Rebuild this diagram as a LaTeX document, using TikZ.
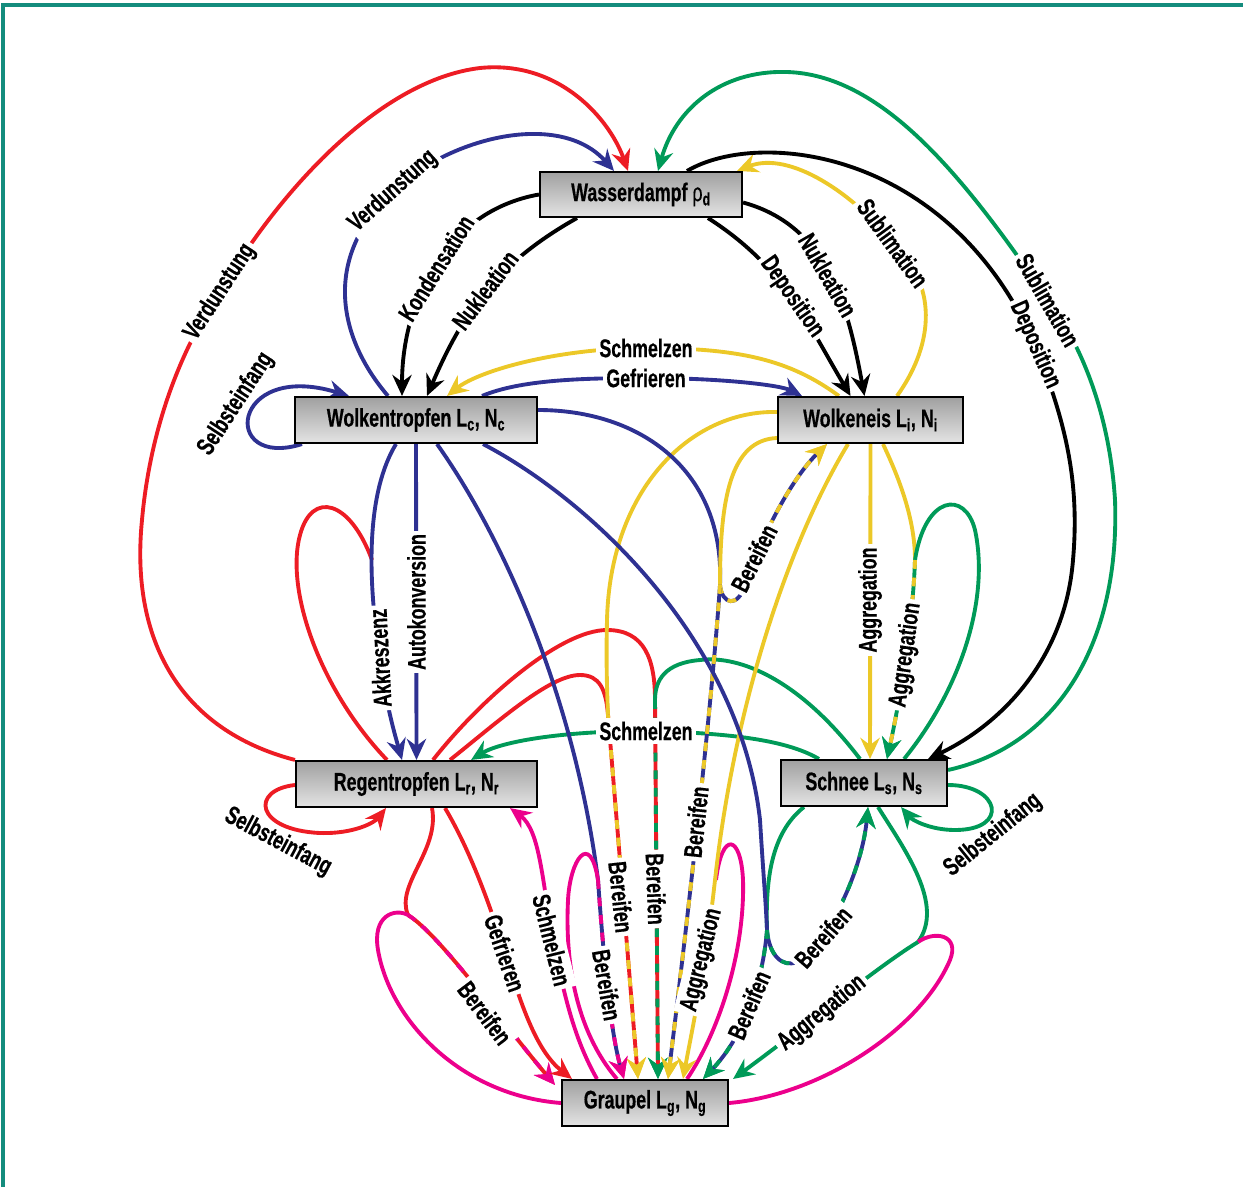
\documentclass[tikz,border=0pt]{standalone}
\usepackage{fontspec}
\setmainfont{Liberation Sans}[FakeBold=0.6]
\usetikzlibrary{arrows.meta,calc}
\definecolor{cred}{RGB}{237,28,36}
\definecolor{cblue}{RGB}{46,49,146}
\definecolor{cyel}{RGB}{236,200,40}
\definecolor{cgreen}{RGB}{0,154,88}
\definecolor{cmag}{RGB}{236,0,140}
\definecolor{cframe}{RGB}{20,140,125}
\definecolor{boxtop}{RGB}{160,160,160}
\definecolor{boxbot}{RGB}{228,228,228}
\newcommand\cz[1]{\scalebox{0.7}[1]{#1}}
\pgfdeclarelayer{bg}
\pgfsetlayers{bg,main}
\tikzset{
  con/.style={line width=2.2pt},
  arr/.style={-{Stealth[length=12pt,width=11pt,inset=4pt,color=#1]}},
  bic/.style 2 args={draw=#1, postaction={draw=#2, dash pattern=on 5pt off 5pt}},
  box/.style={draw, line width=1.2pt, top color=boxtop, bottom color=boxbot, minimum height=0.92cm, inner sep=2pt},
  lbl/.style={fill=white, inner sep=2pt},
  free/.style={inner sep=1pt},
}
\begin{document}
\begin{tikzpicture}[x=0.02cm, y=-0.02cm, every node/.style={font=\bfseries\fontsize{14.5}{16}\selectfont}]
\useasboundingbox (0,0) rectangle (1243,1186);
\draw[cframe, line width=2pt] (3,1190) -- (3,5) -- (1246,5);

% boxes
\node[box, minimum width=4.04cm, minimum height=0.9cm] (WD) at (641,194.5) {\cz{Wasserdampf {\mdseries ρ}\textsubscript{d}}};
\node[box, minimum width=4.84cm] (WT) at (416,420) {\cz{Wolkentropfen L\textsubscript{c}, N\textsubscript{c}}};
\node[box, minimum width=3.7cm] (WE) at (870.5,420) {\cz{Wolkeneis L\textsubscript{i}, N\textsubscript{i}}};
\node[box, minimum width=4.82cm] (RT) at (416.5,784) {\cz{Regentropfen L\textsubscript{r}, N\textsubscript{r}}};
\node[box, minimum width=3.32cm] (SN) at (864,783) {\cz{Schnee L\textsubscript{s}, N\textsubscript{s}}};
\node[box, minimum width=3.32cm] (GR) at (645,1103) {\cz{Graupel L\textsubscript{g}, N\textsubscript{g}}};

% merge points
\coordinate (akk) at (372,560);
\coordinate (m1) at (655,700);
\coordinate (m2) at (608,715);
\coordinate (h1) at (720,585);
\coordinate (m3) at (915,560);
\coordinate (h2) at (767,930);
\coordinate (m4) at (918,942);
\coordinate (k) at (408,915);
\coordinate (m5) at (598,880);

\begin{pgfonlayer}{bg}
% ---- top
\draw[con, cred, arr=cred] (RT.north west) .. controls (180,730) and (130,640) .. (142,520)
  .. controls (150,430) and (180,350) .. (220,292) .. controls (280,190) and (380,80) .. (480,68)
  .. controls (560,60) and (610,120) .. ($(WD.north)+(-13,0)$);
\draw[con, cblue, arr=cblue] ($(WT.north)+(-28,0)$) .. controls (340,340) and (320,260) .. (393,191)
  .. controls (450,137) and (560,110) .. ($(WD.north)+(-27,0)$);
\draw[con, black, arr=black] (WD.west) .. controls (446,211) and (402,301) .. ($(WT.north)+(-14,0)$);
\draw[con, black, arr=black] ($(WD.south)+(-64,0)$) .. controls (497,263) and (463,312) .. ($(WT.north)+(11,0)$);
\draw[con, black, arr=black] ($(WD.south)+(67,0)$) .. controls (783,266) and (805,319) .. ($(WE.north)+(-20,0)$);
\draw[con, black, arr=black] ($(WD.east)+(0,8)$) .. controls (829,226) and (848,308) .. ($(WE.north)+(-6,0)$);
\draw[con, cyel, arr=cyel] ($(WE.north)+(26.5,0)$) .. controls (930,350) and (942,290) .. (893,243)
  .. controls (855,195) and (790,150) .. ($(WD.north east)+(-6,0)$);
\draw[con, black, arr=black] ($(WD.north)+(46,0)$) .. controls (760,128) and (950,150) .. (1035,345)
  .. controls (1065,420) and (1080,480) .. (1073,560) .. controls (1065,660) and (1000,725) .. ($(SN.north east)+(-20,0)$);
\draw[con, cgreen, arr=cgreen] ($(SN.east)+(0,-13)$) .. controls (1060,745) and (1120,640) .. (1115,500)
  .. controls (1110,420) and (1085,350) .. (1048,300) .. controls (960,170) and (880,75) .. (787,72)
  .. controls (720,70) and (675,110) .. ($(WD.north)+(17,0)$);
% ---- WT / WE
\draw[con, cyel, arr=cyel] ($(WE.north west)+(62,0)$) .. controls (790,360) and (740,348) .. (646,348)
  .. controls (560,348) and (480,370) .. ($(WT.north)+(31,0)$);
\draw[con, cblue, arr=cblue] ($(WT.north)+(66,0)$) .. controls (520,380) and (580,378) .. (646,378)
  .. controls (720,378) and (780,385) .. ($(WE.north west)+(25,0)$);
\draw[con, cblue, arr=cblue] ($(WT.south west)+(8,0)$) .. controls (220,470) and (230,360) .. ($(WT.north west)+(55,0)$);
% ---- WT -> RT
\draw[con, cred] ($(RT.north)+(-29.5,0)$) .. controls (320,690) and (285,590) .. (300,535)
  .. controls (312,490) and (350,500) .. (akk);
\draw[con, cblue, arr=cblue] ($(WT.south)+(-20,0)$) .. controls (368,490) and (366,570) .. (380,658)
  .. controls (386,705) and (395,735) .. ($(RT.north)+(-14.5,0)$);
\draw[con, cblue, arr=cblue] (WT.south) -- (RT.north);
\draw[con, cred, arr=cred] ($(RT.west)+(0,1)$) .. controls (250,790) and (255,830) .. (320,833)
  .. controls (355,834) and (375,822) .. ($(RT.south west)+(91,0)$);
\draw[con, cgreen, arr=cgreen] ($(SN.north west)+(39,0)$) .. controls (790,742) and (740,733) .. (646,731)
  .. controls (560,731) and (500,742) .. ($(RT.north east)+(-67,0)$);
% ---- red/green Bereifen
\draw[con, cred] ($(RT.north)+(16.5,0)$) .. controls (480,700) and (560,630) .. (607,630)
  .. controls (645,630) and (655,660) .. (m1);
\draw[con, cgreen] ($(SN.north)+(-4,0)$) .. controls (800,680) and (740,655) .. (700,660)
  .. controls (665,663) and (655,680) .. (m1);
\draw[con, bic={cred}{cgreen}, arr=cgreen] (m1) -- ($(GR.north)+(13,0)$);
% ---- red/yellow Bereifen
\draw[con, cred] ($(RT.north)+(33.5,0)$) .. controls (500,720) and (550,675) .. (580,675)
  .. controls (600,675) and (606,690) .. (m2);
\draw[con, cyel] ($(WE.west)+(0,-8)$) .. controls (690,410) and (610,490) .. (607,620)
  .. controls (606,660) and (607,690) .. (m2);
\draw[con, bic={cred}{cyel}, arr=cyel] (m2) -- ($(GR.north)+(-7,0)$);
% ---- blue/yellow Bereifen (h1)
\draw[con, cblue] ($(WT.east)+(0,-10)$) .. controls (640,410) and (725,470) .. (h1);
\draw[con, cyel] ($(WE.west)+(0,18)$) .. controls (730,440) and (720,500) .. (h1);
\draw[con, bic={cblue}{cyel}, arr=cyel] (h1) .. controls (722,605) and (738,608) .. (745,585)
  .. controls (760,540) and (790,480) .. ($(WE.south west)+(50,0)$);
\draw[con, bic={cblue}{cyel}, arr=cyel] (h1) .. controls (712,700) and (690,900) .. ($(GR.north)+(23,0)$);
% ---- magenta loop right + yellow Aggregation
\draw[con, cmag] ($(GR.north)+(42,0)$) .. controls (720,1030) and (745,950) .. (743,880)
  .. controls (741,835) and (722,830) .. (716,880);
\draw[con, cyel, arr=cyel] ($(WE.south)+(-22.5,0)$) .. controls (790,540) and (735,700) .. (715,880)
  .. controls (705,970) and (692,1030) .. ($(GR.north)+(38,0)$);
\draw[con, cyel, arr=cyel] (WE.south) -- ($(SN.north)+(6,0)$);
% ---- green/yellow Aggregation
\draw[con, cyel] ($(WE.south)+(12.5,0)$) .. controls (900,480) and (915,520) .. (m3);
\draw[con, cgreen] ($(SN.north east)+(-44,0)$) .. controls (960,690) and (990,600) .. (975,530)
  .. controls (965,490) and (925,495) .. (m3);
\draw[con, bic={cgreen}{cyel}, arr=cgreen] (m3) .. controls (913,620) and (900,700) .. ($(SN.north)+(23,0)$);
\draw[con, cgreen, arr=cgreen] ($(SN.east)+(0,2)$) .. controls (1000,785) and (1010,830) .. (955,830)
  .. controls (930,830) and (912,820) .. ($(SN.south east)+(-47,0)$);
% ---- blue/green Bereifen (h2)
\draw[con, cgreen] ($(SN.south west)+(24,0)$) .. controls (775,830) and (765,870) .. (h2);
\draw[con, cblue] ($(WT.south east)+(-55,0)$) .. controls (590,500) and (740,640) .. (760,820)
  .. controls (763,870) and (766,905) .. (h2);
\draw[con, bic={cblue}{cgreen}, arr=cgreen] (h2) .. controls (769,955) and (782,968) .. (797,962)
  .. controls (830,940) and (862,870) .. ($(SN.south)+(4,0)$);
\draw[con, bic={cblue}{cgreen}, arr=cgreen] (h2) .. controls (763,980) and (745,1035) .. ($(GR.north east)+(-26,0)$);
% ---- green Aggregation + magenta
\draw[con, cgreen] ($(SN.south)+(14,0)$) .. controls (905,850) and (945,905) .. (m4);
\draw[con, cmag] (GR.east) .. controls (820,1095) and (920,1030) .. (950,960)
  .. controls (960,935) and (935,930) .. (m4);
\draw[con, cgreen, arr=cgreen] (m4) .. controls (880,965) and (800,1030) .. ($(GR.north east)+(4,0)$);
% ---- red/magenta Bereifen
\draw[con, cred] ($(RT.south)+(15.5,0)$) .. controls (440,850) and (395,885) .. (k);
\draw[con, cmag] (GR.west) .. controls (460,1095) and (390,1020) .. (378,950)
  .. controls (372,915) and (395,908) .. (k);
\draw[con, bic={cred}{cmag}, arr=cmag] (k) .. controls (440,935) and (500,1020) .. ($(GR.north west)+(-6,6)$);
% ---- Gefrieren / Schmelzen
\draw[con, cred, arr=cred] ($(RT.south)+(28.5,0)$) .. controls (470,850) and (490,905) .. (505,953)
  .. controls (520,1000) and (535,1050) .. ($(GR.north west)+(11,0)$);
\draw[con, cmag, arr=cmag] ($(GR.north west)+(36,0)$) .. controls (575,1040) and (565,1000) .. (553,940)
  .. controls (542,880) and (540,830) .. ($(RT.south east)+(-28,0)$);
% ---- blue/magenta Bereifen
\draw[con, cblue] ($(WT.south)+(21,0)$) .. controls (505,540) and (575,700) .. (m5);
\draw[con, cmag] ($(GR.north west)+(56,0)$) .. controls (575,1030) and (565,960) .. (568,900)
  .. controls (570,860) and (590,830) .. (m5);
\draw[con, bic={cblue}{cmag}, arr=cmag] (m5) .. controls (603,950) and (610,1030) .. ($(GR.north west)+(63,0)$);
\end{pgfonlayer}

% labels
\node[lbl, rotate=57] (l1) at (220,292) {\cz{Verdunstung}};
\node[lbl, rotate=42] (l2) at (393,191) {\cz{Verdunstung}};
\node[lbl, rotate=58] (l3) at (436,268) {\cz{Kondensation}};
\node[lbl, rotate=53] (l4) at (485,290) {\cz{Nukleation}};
\node[lbl, rotate=-55] (l5) at (792,297) {\cz{Deposition}};
\node[lbl, rotate=-60] (l6) at (828,275) {\cz{Nukleation}};
\node[lbl, rotate=-54] (l7) at (893,243) {\cz{Sublimation}};
\node[lbl, rotate=-60] (l8) at (1048,300) {\cz{Sublimation}};
\node[lbl, rotate=-66] (l9) at (1035,345) {\cz{Deposition}};
\node[lbl] (l10) at (646,348) {\cz{Schmelzen}};
\node[lbl] (l11) at (646,378) {\cz{Gefrieren}};
\node[free, rotate=57] (l12) at (236,404) {\cz{Selbsteinfang}};
\node[lbl, rotate=93] (l13) at (380,658) {\cz{Akkreszenz}};
\node[lbl, rotate=90] (l14) at (416.5,602) {\cz{Autokonversion}};
\node[lbl, rotate=63] (l15) at (754,558) {\cz{Bereifen}};
\node[lbl, rotate=90] (l16) at (870,600) {\cz{Aggregation}};
\node[lbl, rotate=82] (l17) at (906,655) {\cz{Aggregation}};
\node[lbl] (l18) at (646,731) {\cz{Schmelzen}};
\node[free, rotate=-28] (l19) at (278,842) {\cz{Selbsteinfang}};
\node[free, rotate=39] (l20) at (993,835) {\cz{Selbsteinfang}};
\node[lbl, rotate=-88] (l21) at (656,889) {\cz{Bereifen}};
\node[lbl, rotate=-84] (l22) at (621,897) {\cz{Bereifen}};
\node[lbl, rotate=84] (l23) at (696,822) {\cz{Bereifen}};
\node[lbl, rotate=-71] (l24) at (505,953) {\cz{Gefrieren}};
\node[lbl, rotate=-76] (l25) at (552,940) {\cz{Schmelzen}};
\node[lbl, rotate=-80] (l26) at (607,985) {\cz{Bereifen}};
\node[lbl, rotate=-53] (l27) at (485,1013) {\cz{Bereifen}};
\node[lbl, rotate=76] (l28) at (702,960) {\cz{Aggregation}};
\node[lbl, rotate=67] (l29) at (749,1005) {\cz{Bereifen}};
\node[lbl, rotate=49] (l30) at (823,937) {\cz{Bereifen}};
\node[lbl, rotate=39] (l31) at (822,1013) {\cz{Aggregation}};
\end{tikzpicture}
\end{document}
